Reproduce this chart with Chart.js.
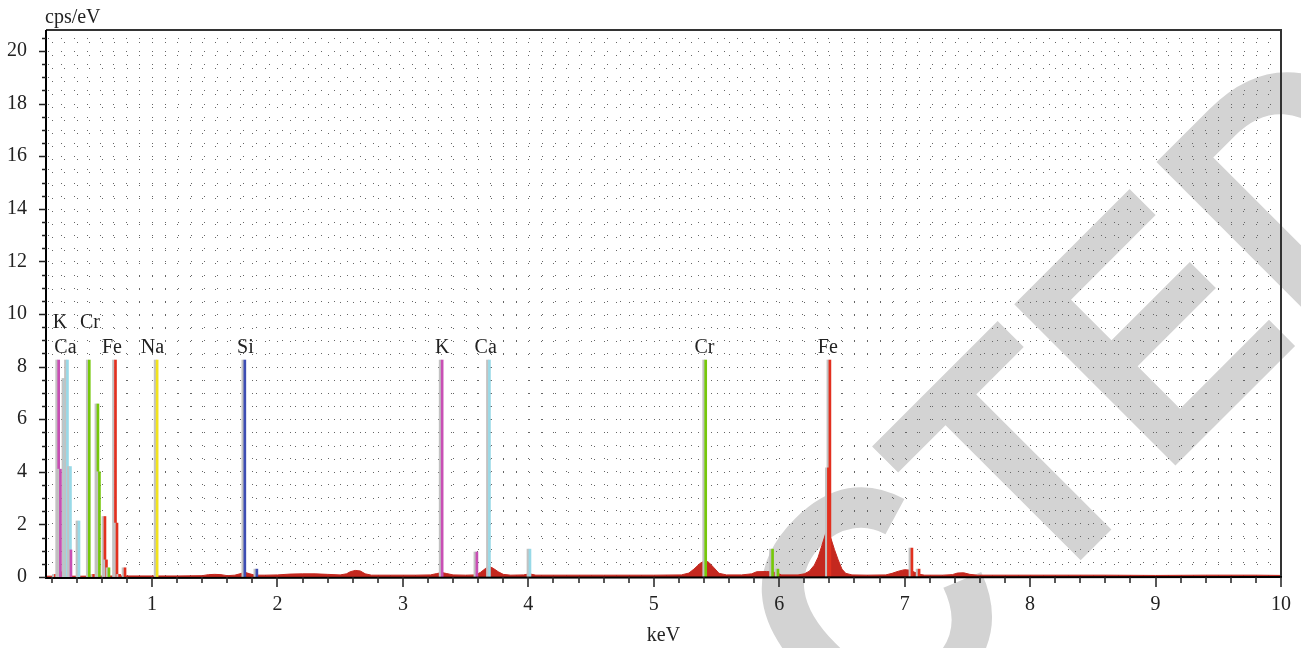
<!DOCTYPE html>
<html><head><meta charset="utf-8">
<script src="https://cdn.jsdelivr.net/npm/chart.js@4.4.0/dist/chart.umd.min.js"></script>
<style>html,body{margin:0;padding:0;background:#fff;}canvas{display:block;}</style>
</head><body>
<canvas id="c" width="1301" height="648"></canvas>
<script>
// ---------- data ----------
const specKeV = [0.155,0.40,0.80,1.20,1.40,1.45,1.50,1.55,1.60,1.66,1.70,1.74,1.78,1.82,1.90,2.00,2.10,2.20,2.30,2.40,2.50,2.55,2.58,2.62,2.66,2.70,2.75,2.90,3.10,3.22,3.27,3.31,3.35,3.40,3.50,3.58,3.62,3.66,3.69,3.72,3.76,3.80,3.86,3.96,4.01,4.06,4.30,4.60,5.00,5.22,5.28,5.32,5.37,5.41,5.44,5.48,5.52,5.58,5.70,5.78,5.82,5.90,5.96,6.02,6.15,6.20,6.24,6.28,6.31,6.34,6.37,6.39,6.41,6.44,6.47,6.50,6.53,6.58,6.70,6.85,6.90,6.95,7.00,7.04,7.08,7.12,7.16,7.30,7.38,7.42,7.47,7.52,7.58,7.80,8.20,8.60,9.00,9.40,9.80,10.0];
const specCps = [0.03,0.03,0.04,0.04,0.05,0.09,0.10,0.09,0.05,0.07,0.12,0.18,0.12,0.07,0.07,0.08,0.11,0.12,0.12,0.10,0.08,0.12,0.20,0.25,0.23,0.12,0.07,0.07,0.07,0.08,0.13,0.17,0.13,0.08,0.07,0.08,0.18,0.33,0.40,0.33,0.20,0.10,0.07,0.08,0.12,0.07,0.07,0.07,0.07,0.08,0.15,0.30,0.52,0.63,0.55,0.35,0.14,0.08,0.08,0.12,0.20,0.21,0.18,0.08,0.08,0.12,0.22,0.45,0.75,1.20,1.65,1.80,1.50,1.05,0.65,0.30,0.14,0.08,0.07,0.08,0.14,0.22,0.28,0.26,0.18,0.10,0.07,0.07,0.09,0.15,0.16,0.10,0.07,0.07,0.07,0.07,0.06,0.07,0.07,0.06];

const kKeV  = [0.256, 0.270, 0.354, 3.313, 3.590];
const kCps  = [8.25, 4.10, 1.03, 8.25, 0.95];
const caKeV = [0.306, 0.326, 0.350, 0.418, 3.690, 4.013];
const caCps = [7.55, 8.25, 4.20, 2.13, 8.25, 1.06];
const crKeV = [0.500, 0.569, 0.581, 0.657, 5.414, 5.947, 5.990];
const crCps = [8.25, 6.58, 4.00, 0.35, 8.25, 1.06, 0.30];
const feKeV = [0.230, 0.280, 0.535, 0.625, 0.637, 0.709, 0.721, 0.742, 0.785, 6.404, 6.392, 7.058, 7.115];
const feCps = [0.10, 0.20, 0.10, 2.30, 0.65, 8.25, 2.05, 0.10, 0.35, 8.25, 4.15, 1.10, 0.30];
const naKeV = [1.041];
const naCps = [8.25];
const siKeV = [1.740, 1.836];
const siCps = [8.25, 0.30];
const otherKeV = [0.152];
const otherCps = [0.30];

const labelNames = ['K','Cr','Ca','Fe','Na','Si','K','Ca','Cr','Fe'];
const labelKeV   = [0.266, 0.506, 0.310, 0.681, 1.004, 1.745, 3.313, 3.660, 5.404, 6.387];
const labelCps   = [9.45, 9.45, 8.5, 8.5, 8.5, 8.5, 8.5, 8.5, 8.5, 8.5];

const xMajorTicks = [1,2,3,4,5,6,7,8,9,10];
const xTickLabels = ['1','2','3','4','5','6','7','8','9','10'];
const yMajorTicks = [0,2,4,6,8,10,12,14,16,18,20];
const yTickLabels = ['0','2','4','6','8','10','12','14','16','18','20'];
const xMin = 0.155, xMax = 10, yMin = 0, yMax = 20.8;
const xMinorStep = 0.2, yMinorStep = 0.5, xGridStep = 0.1, yGridStep = 0.5;

const xTitle = 'keV';
const yTitle = 'cps/eV';
const watermarkText = 'RETRACTED';

// ---------- helpers ----------
const pts = (xs, ys) => xs.map((v, i) => ({x: v, y: ys[i]}));
const SERIF = '"Liberation Serif", "DejaVu Serif", serif';
const markerDs = (label, xs, ys, color) => ({
  type: 'bar', label, data: pts(xs, ys), backgroundColor: color,
  borderWidth: 0, barThickness: 2, grouped: false, order: 1
});

// ---------- plugins ----------
const watermark = {
  id: 'watermark',
  beforeDraw(chart) {
    const ctx = chart.ctx;
    ctx.save();
    ctx.font = 'bold 100px "Liberation Sans", Arial, sans-serif';
    const asc = ctx.measureText('T').actualBoundingBoxAscent;
    const size = 232 / asc * 100;
    ctx.font = 'bold ' + size + 'px "Liberation Sans", Arial, sans-serif';
    const w1 = ctx.measureText('RETRAC').width;
    const bbL = ctx.measureText('T').actualBoundingBoxLeft;
    ctx.translate(1030.9, 610.1);
    ctx.rotate(-Math.PI / 4);
    ctx.scale(0.91, 1);
    ctx.fillStyle = '#d3d3d3';
    ctx.textBaseline = 'alphabetic';
    ctx.textAlign = 'left';
    ctx.fillText(watermarkText, -(w1 - bbL), 0);
    ctx.restore();
  }
};

const gridDots = {
  id: 'gridDots',
  beforeDatasetsDraw(chart) {
    const {ctx, chartArea: a, scales: {x, y}} = chart;
    ctx.save();
    ctx.strokeStyle = '#666';
    ctx.lineWidth = 1;
    ctx.setLineDash([1, 12]);
    ctx.beginPath();
    for (let i = Math.ceil(xMin / xGridStep); i * xGridStep < xMax - 1e-9; i++) {
      const px = Math.round(x.getPixelForValue(i * xGridStep)) + 0.5;
      ctx.moveTo(px, a.bottom - 1); ctx.lineTo(px, a.top);
    }
    for (let j = 1; j * yGridStep < yMax - 1e-9; j++) {
      const py = Math.round(y.getPixelForValue(j * yGridStep)) + 0.5;
      ctx.moveTo(a.left + 2, py); ctx.lineTo(a.right, py);
    }
    ctx.stroke();
    ctx.restore();
  }
};

const markerShadow = {
  id: 'markerShadow',
  beforeDatasetDraw(chart, args) {
    if (chart.data.datasets[args.index].type !== 'bar') return;
    const ctx = chart.ctx;
    ctx.save();
    ctx.shadowColor = '#c2c2c2';
    ctx.shadowOffsetX = -2;
    ctx.shadowOffsetY = 0;
    ctx.shadowBlur = 0;
  },
  afterDatasetDraw(chart, args) {
    if (chart.data.datasets[args.index].type !== 'bar') return;
    chart.ctx.restore();
  }
};

const frame = {
  id: 'frame',
  afterDatasetsDraw(chart) {
    const {ctx, chartArea: a, scales: {x, y}} = chart;
    ctx.save();
    ctx.strokeStyle = '#333'; ctx.lineWidth = 2;
    ctx.beginPath();
    ctx.moveTo(a.left, a.top); ctx.lineTo(a.right, a.top); ctx.lineTo(a.right, a.bottom);
    ctx.stroke();
    ctx.strokeStyle = '#000'; ctx.lineWidth = 2;
    ctx.beginPath();
    ctx.moveTo(a.left, a.top); ctx.lineTo(a.left, a.bottom + 1); ctx.lineTo(a.right + 1, a.bottom);
    ctx.stroke();
    ctx.strokeStyle = '#222'; ctx.lineWidth = 1.5;
    ctx.beginPath();
    for (let i = Math.ceil(xMin / xMinorStep); i * xMinorStep <= xMax + 1e-9; i++) {
      const v = i * xMinorStep;
      const major = xMajorTicks.some(t => Math.abs(t - v) < 1e-6);
      const px = Math.round(x.getPixelForValue(v));
      ctx.moveTo(px, a.bottom); ctx.lineTo(px, a.bottom + (major ? 10 : 6));
    }
    for (let j = 0; j * yMinorStep <= yMax + 1e-9; j++) {
      const v = j * yMinorStep;
      const major = yMajorTicks.some(t => Math.abs(t - v) < 1e-6);
      const py = Math.round(y.getPixelForValue(v)) + 0.5;
      ctx.moveTo(a.left, py); ctx.lineTo(a.left - (major ? 7 : 4), py);
    }
    ctx.stroke();
    ctx.fillStyle = '#222';
    ctx.font = '20px ' + SERIF;
    ctx.textAlign = 'center';
    ctx.textBaseline = 'alphabetic';
    labelNames.forEach((n, i) => {
      ctx.fillText(n, x.getPixelForValue(labelKeV[i]), y.getPixelForValue(labelCps[i]));
    });
    ctx.textAlign = 'left';
    ctx.fillText(yTitle, a.left - 1, 23);
    ctx.textAlign = 'center';
    ctx.fillText(xTitle, (a.left + a.right) / 2, 641);
    ctx.restore();
  }
};

// ---------- chart ----------
new Chart(document.getElementById('c'), {
  type: 'line',
  data: {
    datasets: [
      {
        type: 'line', label: 'Spectrum', data: pts(specKeV, specCps),
        borderColor: '#c4281f', backgroundColor: '#c4281f', borderWidth: 1,
        fill: 'origin', pointRadius: 0, tension: 0, order: 10
      },
      markerDs('other', otherKeV, otherCps, '#1c2a52'),
      markerDs('K', kKeV, kCps, '#c84fb4'),
      markerDs('Ca', caKeV, caCps, '#98d9e7'),
      markerDs('Cr', crKeV, crCps, '#76c80a'),
      markerDs('Fe', feKeV, feCps, '#e2301f'),
      markerDs('Na', naKeV, naCps, '#f2e31c'),
      markerDs('Si', siKeV, siCps, '#3d4db3')
    ]
  },
  options: {
    responsive: false,
    animation: false,
    devicePixelRatio: 1,
    layout: {padding: {left: 0, right: 20, top: 30, bottom: 0}},
    plugins: {legend: {display: false}, tooltip: {enabled: false}},
    scales: {
      x: {
        type: 'linear', min: xMin, max: xMax, offset: false,
        grid: {display: false, drawTicks: false},
        border: {display: false},
        afterBuildTicks: s => { s.ticks = xMajorTicks.map(v => ({value: v})); },
        afterFit: s => { s.height = 71; s.paddingLeft = 0; s.paddingRight = 0; },
        ticks: {
          autoSkip: false, maxRotation: 0, padding: 16, color: '#222',
          font: {family: SERIF, size: 20},
          callback: (v, i) => xTickLabels[i]
        }
      },
      y: {
        type: 'linear', min: yMin, max: yMax,
        grid: {display: false, drawTicks: false},
        border: {display: false},
        afterBuildTicks: s => { s.ticks = yMajorTicks.map(v => ({value: v})); },
        afterFit: s => { s.width = 46; s.paddingTop = 0; s.paddingBottom = 0; },
        ticks: {
          autoSkip: false, padding: 19, color: '#222',
          font: {family: SERIF, size: 20},
          callback: (v, i) => yTickLabels[i]
        }
      }
    }
  },
  plugins: [watermark, gridDots, markerShadow, frame]
});
</script>
</body></html>
